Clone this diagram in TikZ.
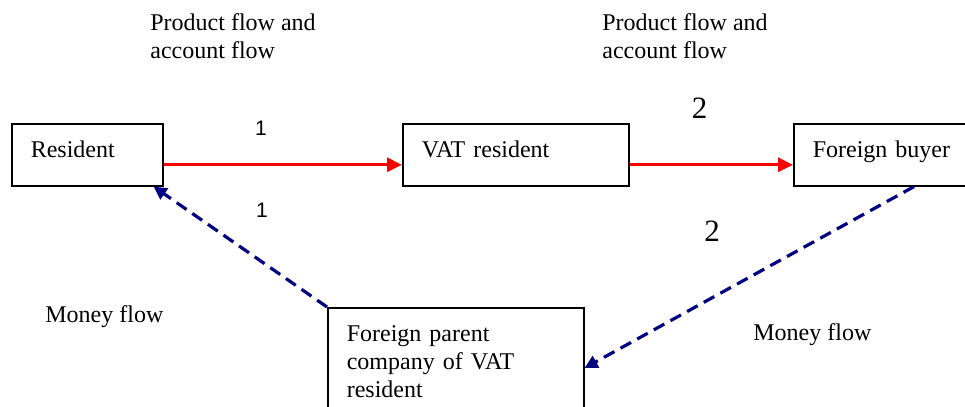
\documentclass[tikz,border=0pt]{standalone}
\usepackage{fontspec}
\setmainfont{Liberation Serif}
\newfontfamily\digitfont{Liberation Sans}
\usetikzlibrary{arrows.meta,positioning}
\definecolor{moneyblue}{RGB}{0,0,128}

\begin{document}
\begin{tikzpicture}[
    x = 0.5pt, y = -0.5pt,
    font = \fontsize{12}{13.8}\selectfont,
    box/.style = {draw, line width=0.8pt, anchor=north west, inner xsep=9.5pt, inner ysep=8.8pt, text height=8.2pt, text depth=5.2pt, align=left},
    note/.style = {inner sep=0pt, align=left},
    num/.style = {inner sep=0pt},
    product/.style = {red, line width=1.5pt, -{Triangle[length=7.5pt,width=7pt]}},
    money/.style = {moneyblue, line width=1.6pt, dash pattern=on 6pt off 3.5pt, -{Triangle[length=6.5pt,width=6.5pt]}}
]
    \clip (0,0) rectangle (965,407);
    \node[box, text width=56.5pt] (resident) at (11,123) {Resident};
    \node[box, text width=94pt] (vat) at (402,123) {VAT resident};
    \node[box, text width=69pt] (buyer) at (793,123) {Foreign buyer};
    \node[box, text width=109pt, text depth=60pt] (parent) at (327,307) {Foreign parent\\company of VAT\\resident};
    \node[note, anchor=north west] (flowA) at (150,13.6) {Product flow and\\account flow};
    \node[note, anchor=north west] (flowB) at (602,13.6) {Product flow and\\account flow};
    \node[note, anchor=base west] (moneyA) at (45,322) {Money flow};
    \node[note, anchor=base west] (moneyB) at (753,340) {Money flow};
    \node[num, font=\digitfont\fontsize{10.5}{12}\selectfont] (oneA) at (261,128.5) {1};
    \node[num, font=\digitfont\fontsize{10.5}{12}\selectfont] (oneB) at (262,210) {1};
    \node[num, font=\fontsize{15.5}{18}\selectfont] (twoA) at (699.5,108.5) {2};
    \node[num, font=\fontsize{15.5}{18}\selectfont] (twoB) at (712,231) {2};
    \draw[product] ([yshift=-5pt]resident.east) -- ([yshift=-5pt]vat.west);
    \draw[product] ([yshift=-5pt]vat.east) -- ([yshift=-5pt]buyer.west);
    \draw[money] (parent.north west) -- ([xshift=-5pt]resident.south east);
    \draw[money] ([xshift=60.5pt]buyer.south west) -- ([yshift=-30.5pt]parent.north east);
\end{tikzpicture}
\end{document}
